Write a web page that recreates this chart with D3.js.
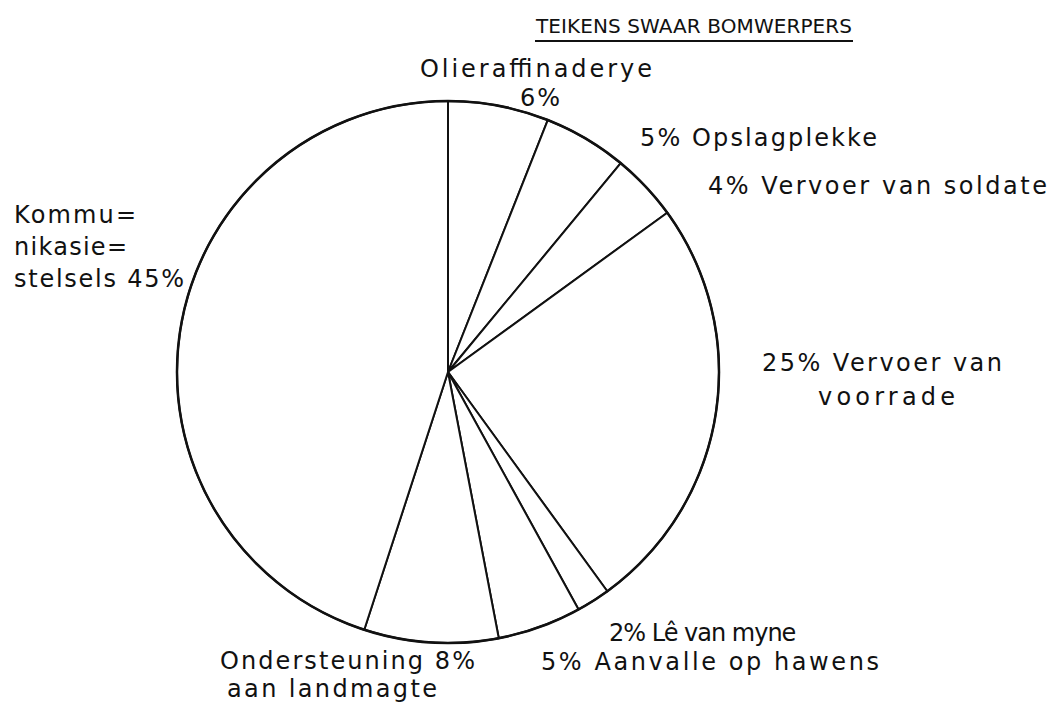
<!DOCTYPE html>
<html>
<head>
<meta charset="utf-8">
<script src="https://cdn.jsdelivr.net/npm/d3@7"></script>
<style>
  body { margin: 0; background: #fff; }
  text { font-family: "DejaVu Sans", sans-serif; fill: #111; }
</style>
</head>
<body>
<div id="chart"></div>
<script>
// chart data
const title = "TEIKENS SWAAR BOMWERPERS";
const categories = ["Olieraffinaderye", "Opslagplekke", "Vervoer van soldate",
  "Vervoer van voorrade", "Lê van myne", "Aanvalle op hawens",
  "Ondersteuning aan landmagte", "Kommunikasiestelsels"];
const values = [6, 5, 4, 25, 2, 5, 8, 45];
// label text as printed (lines)
const labelLines = [
  ["Olieraffinaderye", "6%"],
  ["5% Opslagplekke"],
  ["4% Vervoer van soldate"],
  ["25% Vervoer van", "voorrade"],
  ["2% Lê van myne"],
  ["5% Aanvalle op hawens"],
  ["Ondersteuning 8%", "aan landmagte"],
  ["Kommu=", "nikasie=", "stelsels 45%"]
];

// layout for the labels: left x, baseline y, width of the line (null = natural)
const labelLayout = [
  [{x: 420, y: 77, w: 232}, {x: 520, y: 106, w: 40}],
  [{x: 640, y: 146, w: 237}],
  [{x: 708, y: 194, w: 339}],
  [{x: 762, y: 371, w: 240}, {x: 818, y: 405, w: 137}],
  [{x: 609, y: 641, w: null, ls: -1}],
  [{x: 541, y: 670, w: 338}],
  [{x: 220, y: 669, w: 255}, {x: 227, y: 697, w: 210}],
  [{x: 14, y: 223, w: 122}, {x: 14, y: 255, w: 113}, {x: 14, y: 287, w: 170}]
];

const width = 1053, height = 702;
const cx = 448, cy = 372, radius = 271;

const svg = d3.select("#chart").append("svg")
  .attr("width", width)
  .attr("height", height);

// title + underline
svg.append("text")
  .attr("x", 536)
  .attr("y", 33)
  .attr("textLength", 316)
  .attr("lengthAdjust", "spacing")
  .style("font-size", "20px")
  .text(title);
svg.append("line")
  .attr("x1", 535).attr("x2", 853)
  .attr("y1", 41).attr("y2", 41)
  .attr("stroke", "#111").attr("stroke-width", 2);

// pie
const pie = d3.pie().sort(null).value(d => d).startAngle(0).endAngle(2 * Math.PI);
const arcs = pie(values);
const arc = d3.arc().innerRadius(0).outerRadius(radius);

const g = svg.append("g").attr("transform", `translate(${cx},${cy})`);

g.selectAll("path.slice")
  .data(arcs)
  .enter().append("path")
  .attr("class", "slice")
  .attr("d", arc)
  .attr("fill", "#fff")
  .attr("stroke", "#111")
  .attr("stroke-width", 2)
  .attr("stroke-linejoin", "round");

g.append("circle")
  .attr("r", radius)
  .attr("fill", "none")
  .attr("stroke", "#111")
  .attr("stroke-width", 2.5);

// labels
labelLines.forEach((lines, i) => {
  lines.forEach((s, j) => {
    const p = labelLayout[i][j];
    const el = svg.append("text")
      .attr("x", p.x)
      .attr("y", p.y)
      .style("font-size", (p.fs || 24) + "px")
      .text(s);
    if (p.w) el.attr("textLength", p.w).attr("lengthAdjust", "spacing");
    if (p.ls) el.style("letter-spacing", p.ls + "px");
  });
});
</script>
</body>
</html>
